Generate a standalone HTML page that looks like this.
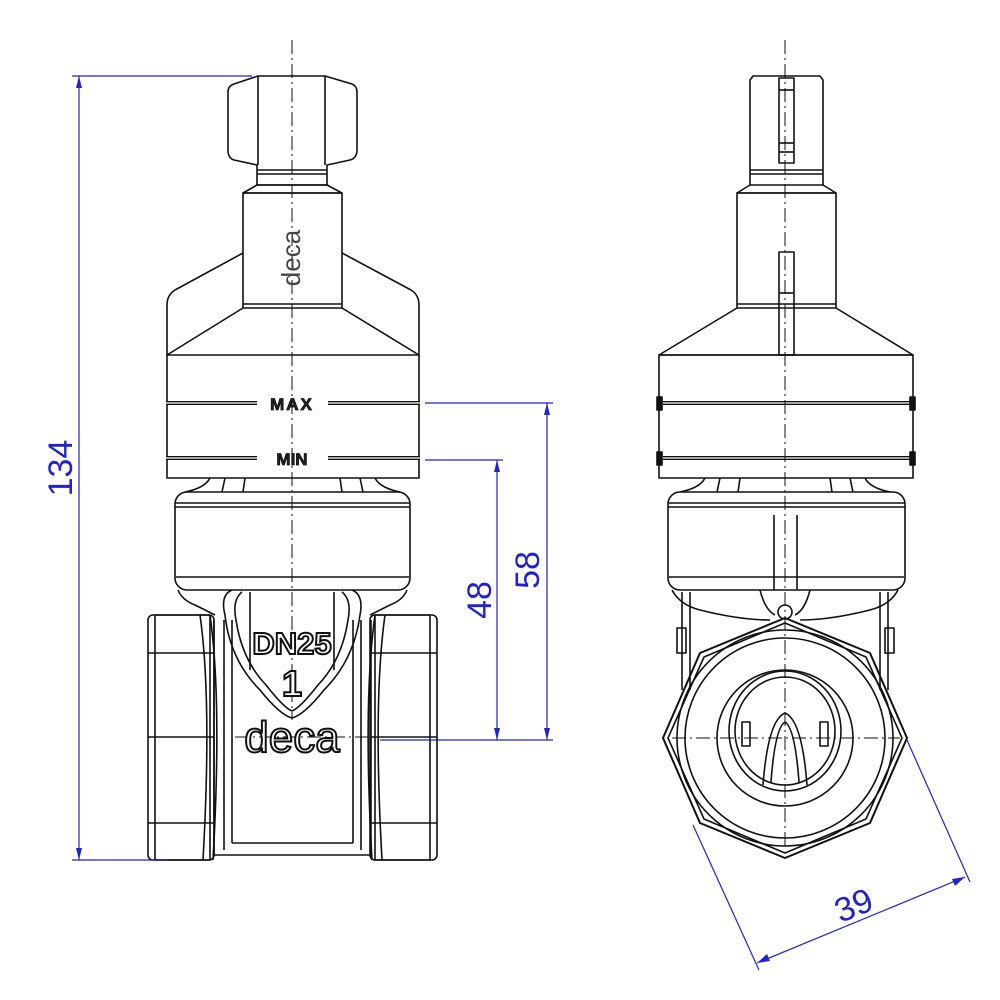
<!DOCTYPE html>
<html><head><meta charset="utf-8"><style>
html,body{margin:0;padding:0;background:#fff;}
svg{display:block;}
</style></head><body>
<svg width="1000" height="1000" viewBox="0 0 1000 1000" xmlns="http://www.w3.org/2000/svg">
<g fill="none" stroke="#111" stroke-width="1.6" stroke-linejoin="round">
<!-- LEFT VIEW -->
<path d="M258,76 L325,76 L352,84 Q357,86 357,92 L357,150 Q357,158 350,160 L327,165 L327,185 L257,185 L257,165 L234,160 Q228,158 228,150 L228,92 Q228,86 234,84 Z"/>
<line x1="258" y1="76" x2="258" y2="165"/><line x1="325" y1="76" x2="325" y2="165"/>
<line x1="257" y1="170" x2="327" y2="170"/><line x1="257" y1="174" x2="327" y2="174"/>
<line x1="257" y1="185" x2="327" y2="185"/>
<path d="M257,185 L243,193 L342,193 L327,185"/>
<rect x="243" y="193" width="99" height="115"/>
<line x1="243" y1="304" x2="342" y2="304"/>
<path d="M243,253 L175,290 Q167,295 167,305 L167,478 L419,478 L419,305 Q419,295 411,290 L342,253"/>
<path d="M243,308 L167,355 L419,355 L342,308"/>
<g stroke-width="4">
<line x1="166" y1="403" x2="257" y2="403"/><line x1="328" y1="403" x2="420" y2="403"/>
<line x1="166" y1="458" x2="257" y2="458"/><line x1="328" y1="458" x2="420" y2="458"/>
</g>
<line x1="166" y1="403" x2="257" y2="403" stroke="#fff" stroke-width="1.2"/><line x1="328" y1="403" x2="420" y2="403" stroke="#fff" stroke-width="1.2"/><line x1="166" y1="458" x2="257" y2="458" stroke="#fff" stroke-width="1.2"/><line x1="328" y1="458" x2="420" y2="458" stroke="#fff" stroke-width="1.2"/>
<path d="M210,478 Q205,488 185,492 M225,478 L222,492 M245,478 L243,492 M340,478 L342,492 M360,478 L363,492 M375,478 Q380,488 400,492"/>
<rect x="175" y="492" width="235" height="98" rx="12"/>
<line x1="175" y1="503" x2="410" y2="503"/><line x1="175" y1="507" x2="410" y2="507"/>
<line x1="176" y1="577" x2="409" y2="577"/>
<path d="M178,590 Q182,600 195,605 L215,615 M407,590 Q403,600 390,605 L370,615"/>
<rect x="148" y="615" width="66" height="245" rx="5"/>
<rect x="155" y="615" width="55" height="245"/>
<rect x="370" y="615" width="67" height="245" rx="5"/>
<rect x="375" y="615" width="55" height="245"/>
<line x1="148" y1="653" x2="214" y2="653"/><line x1="148" y1="737" x2="214" y2="737"/><line x1="148" y1="823" x2="214" y2="823"/>
<line x1="370" y1="653" x2="437" y2="653"/><line x1="370" y1="737" x2="437" y2="737"/><line x1="370" y1="823" x2="437" y2="823"/>
<path d="M200,615 Q212,700 203,860 M210,615 Q222,700 213,860 M385,615 Q373,700 382,860 M375,615 Q363,700 372,860"/>
<line x1="214" y1="620" x2="214" y2="855"/><line x1="371" y1="620" x2="371" y2="855"/>
<line x1="224" y1="620" x2="224" y2="850"/><line x1="361" y1="620" x2="361" y2="850"/>
<line x1="232" y1="620" x2="232" y2="843"/><line x1="353" y1="620" x2="353" y2="843"/>
<line x1="232" y1="843" x2="353" y2="843"/><line x1="214" y1="855" x2="371" y2="855"/>
<path d="M232,590 Q220,595 225,615 Q230,660 260,690 Q280,715 292,718 Q304,715 324,690 Q354,660 360,615 Q364,595 352,590"/>
<path d="M242,592 Q232,600 236,620 Q242,660 266,685 Q284,708 292,711 Q300,708 318,685 Q342,660 348,620 Q352,600 342,592"/>
<line x1="250" y1="592" x2="250" y2="670"/><line x1="334" y1="592" x2="334" y2="670"/>

<!-- RIGHT VIEW -->
<path d="M753,76 L820,76 L823,80 L823,185 L750,185 L750,80 Z"/>
<rect x="779" y="78" width="15" height="85"/>
<line x1="779" y1="90" x2="794" y2="90"/><line x1="779" y1="143" x2="794" y2="143"/><line x1="779" y1="152" x2="794" y2="152"/>
<line x1="750" y1="170" x2="823" y2="170"/><line x1="750" y1="174" x2="823" y2="174"/>
<path d="M750,185 L737,193 L836,193 L823,185"/>
<rect x="737" y="193" width="99" height="115"/>
<line x1="737" y1="304" x2="836" y2="304"/>
<path d="M737,308 L659,355 L913,355 L836,308"/>
<rect x="659" y="355" width="254" height="123"/>
<rect x="779" y="252" width="15" height="103"/>
<line x1="779" y1="293" x2="794" y2="293"/>
<g stroke-width="4"><line x1="663" y1="403" x2="910" y2="403"/><line x1="663" y1="458" x2="910" y2="458"/></g>
<line x1="663" y1="403" x2="910" y2="403" stroke="#fff" stroke-width="1.2"/><line x1="663" y1="458" x2="910" y2="458" stroke="#fff" stroke-width="1.2"/>
<g fill="#111"><rect x="657" y="397" width="5" height="13"/><rect x="910" y="397" width="5" height="13"/><rect x="657" y="452" width="5" height="13"/><rect x="910" y="452" width="5" height="13"/></g>
<path d="M705,478 Q700,488 680,492 M720,478 L717,492 M740,478 L738,492 M830,478 L832,492 M850,478 L853,492 M865,478 Q870,488 890,492"/>
<rect x="668" y="492" width="237" height="98" rx="12"/>
<line x1="668" y1="503" x2="905" y2="503"/><line x1="668" y1="507" x2="905" y2="507"/>
<line x1="669" y1="577" x2="904" y2="577"/>
<line x1="774" y1="515" x2="774" y2="590"/><line x1="797" y1="515" x2="797" y2="590"/>
<path d="M672,590 Q680,605 700,610 Q740,620 770,620 M898,590 Q890,605 870,610 Q830,620 800,620"/>
<path d="M682,592 L682,690 M690,592 L690,690 M888,592 L888,690 M880,592 L880,690"/>
<rect x="677" y="628" width="9" height="25"/><rect x="885" y="628" width="9" height="25"/>
<path d="M760,590 Q765,610 775,615 M810,590 Q805,610 795,615"/>
<circle cx="785" cy="612" r="7"/>
<polygon points="785,618 870,653 907,738 870,823 785,858 700,823 663,738 700,653" stroke-width="2"/>
<polygon points="785,623 866,657 902,738 866,819 785,853 704,819 668,738 704,657"/>
<circle cx="785" cy="738" r="108"/>
<circle cx="785" cy="738" r="100"/>
<circle cx="785" cy="738" r="68"/>
<ellipse cx="785" cy="731" rx="56" ry="60"/>
<ellipse cx="785" cy="731" rx="50" ry="54"/>
<path d="M763,785 Q768,720 785,713 Q802,720 807,785"/>
<path d="M771,782 Q775,728 785,722 Q795,728 799,782"/>
<rect x="742" y="722" width="8" height="24"/><rect x="820" y="722" width="8" height="24"/>
</g>

<g stroke="#111" stroke-width="1" stroke-dasharray="14,4,2,4" fill="none">
<line x1="292" y1="40" x2="292" y2="720"/>
<line x1="785" y1="40" x2="785" y2="850"/>
<line x1="235" y1="737" x2="380" y2="737"/>
<line x1="672" y1="738" x2="900" y2="738"/>
</g>

<g font-family="Liberation Sans, sans-serif" font-weight="bold" fill="#222" stroke="#111" stroke-width="0.8" text-anchor="middle">
<text x="292" y="410" font-size="17" letter-spacing="2">MAX</text>
<text x="292" y="465" font-size="17">MIN</text>
</g>
<text x="0" y="0" font-family="Liberation Sans, sans-serif" font-size="26" fill="#444" text-anchor="middle" transform="translate(300,258) rotate(-90)">deca</text>
<g font-family="Liberation Sans, sans-serif" fill="#fff" stroke="#111" stroke-width="2" text-anchor="middle" font-weight="bold">
<text x="292" y="654" font-size="31">DN25</text>
<text x="292" y="696" font-size="36">1</text>
<text x="292" y="752" font-size="44" font-weight="normal">deca</text>
</g>

<g stroke="#2222cc" stroke-width="1.2" fill="none">
<line x1="79" y1="76" x2="79" y2="860"/>
<line x1="72" y1="76" x2="252" y2="76"/>
<line x1="72" y1="860" x2="168" y2="860"/>
<line x1="425" y1="403" x2="553" y2="403"/>
<line x1="425" y1="460" x2="503" y2="460"/>
<line x1="380" y1="740" x2="553" y2="740"/>
<line x1="547" y1="403" x2="547" y2="740"/>
<line x1="497" y1="460" x2="497" y2="740"/>
<line x1="693" y1="825" x2="759" y2="970"/>
<line x1="907" y1="740" x2="970" y2="882"/>
<line x1="757" y1="963" x2="965" y2="877"/>
</g>
<g fill="#2222cc">
<polygon points="79,76 76,88 82,88"/><polygon points="79,860 76,848 82,848"/>
<polygon points="547,403 544,415 550,415"/><polygon points="547,740 544,728 550,728"/>
<polygon points="497,460 494,472 500,472"/><polygon points="497,740 494,728 500,728"/>
<polygon points="757,963 767,954 770,961"/><polygon points="965,877 955,886 952,879"/>
</g>
<g font-family="Liberation Sans, sans-serif" fill="#2222cc" font-size="34" text-anchor="middle">
<text transform="translate(72,468) rotate(-90)">134</text>
<text transform="translate(491,600) rotate(-90)">48</text>
<text transform="translate(539,570) rotate(-90)">58</text>
<text transform="translate(858,916) rotate(-22)">39</text>
</g>
</svg>
</body></html>
